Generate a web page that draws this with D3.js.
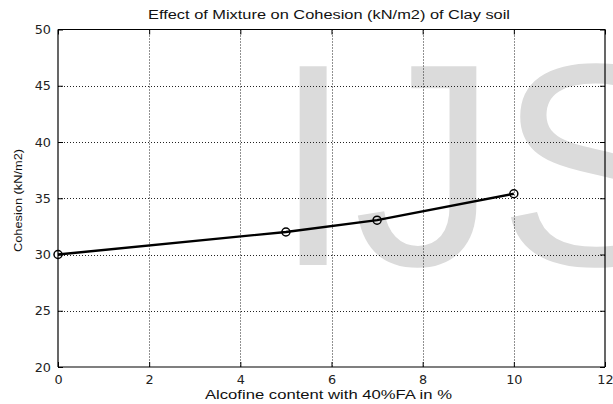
<!DOCTYPE html>
<html>
<head>
<meta charset="utf-8">
<script src="https://cdn.jsdelivr.net/npm/d3@7"></script>
<style>
  html, body { margin: 0; padding: 0; background: #fff; }
  svg { display: block; }
</style>
</head>
<body>
<svg id="chart" width="613" height="404"></svg>
<script>
// ---- data ----
const xValues = [0, 5, 7, 10];
const cohesion = [30, 32, 33.05, 35.4];
const xTicks = [0, 2, 4, 6, 8, 10, 12];
const yTicks = [20, 25, 30, 35, 40, 45, 50];
const titleText = "Effect of Mixture on Cohesion (kN/m2) of Clay soil";
const xLabelText = "Alcofine content with 40%FA in %";
const yLabelText = "Cohesion (kN/m2)";
const watermarkText = "IJS";

// ---- layout ----
const W = 613, H = 404;
const plot = { left: 58, right: 605, top: 29.5, bottom: 367 };
const svg = d3.select("#chart");

const x = d3.scaleLinear().domain([0, 12]).range([plot.left, plot.right]);
const y = d3.scaleLinear().domain([20, 50]).range([plot.bottom, plot.top]);

// watermark (behind everything)
svg.append("text")
  .attr("x", 273).attr("y", 265)
  .attr("font-family", "'Liberation Sans', Arial, sans-serif")
  .attr("font-size", 289)
  .attr("fill", "#dbdbdb")
  .text(watermarkText);

// grid
const grid = svg.append("g").attr("stroke", "#222").attr("stroke-width", 1)
  .attr("stroke-dasharray", "1,2");
grid.selectAll("line.gx").data(xTicks.filter(d => d > 0 && d < 12)).join("line")
  .attr("class", "gx")
  .attr("x1", d => Math.round(x(d)) + 0.5).attr("x2", d => Math.round(x(d)) + 0.5)
  .attr("y1", plot.top).attr("y2", plot.bottom);
grid.selectAll("line.gy").data(yTicks.filter(d => d > 20 && d < 50)).join("line")
  .attr("class", "gy")
  .attr("y1", d => Math.round(y(d)) + 0.5).attr("y2", d => Math.round(y(d)) + 0.5)
  .attr("x1", plot.left).attr("x2", plot.right);

// axes (MATLAB style: inward ticks, box)
const tickFont = "'DejaVu Sans', sans-serif";
const xAxisB = d3.axisBottom(x).tickValues(xTicks).tickSize(-5).tickPadding(8).tickFormat(d3.format("d"));
const xAxisT = d3.axisTop(x).tickValues(xTicks).tickSize(-5).tickFormat("");
const yAxisL = d3.axisLeft(y).tickValues(yTicks).tickSize(-5).tickPadding(7).tickFormat(d3.format("d"));
const yAxisR = d3.axisRight(y).tickValues(yTicks).tickSize(-5).tickFormat("");

function styleAxis(g) {
  g.select(".domain").attr("stroke", "#000").attr("stroke-width", 1.2);
  g.selectAll(".tick line").attr("stroke", "#000");
  g.selectAll("text").attr("font-family", tickFont).attr("font-size", 12.8).attr("fill", "#222");
}
svg.append("g").attr("transform", `translate(0,${plot.bottom})`).call(xAxisB).call(styleAxis)
  .call(g => g.select(".domain").attr("d", `M${plot.left},0H${plot.right}`));
svg.append("g").attr("transform", `translate(0,${plot.top})`).call(xAxisT).call(styleAxis)
  .call(g => g.select(".domain").attr("d", `M${plot.left},0H${plot.right}`));
svg.append("g").attr("transform", `translate(${plot.left},0)`).call(yAxisL).call(styleAxis)
  .call(g => g.select(".domain").attr("d", `M0,${plot.bottom}V${plot.top}`));
svg.append("g").attr("transform", `translate(${plot.right},0)`).call(yAxisR).call(styleAxis)
  .call(g => g.select(".domain").attr("d", `M0,${plot.bottom}V${plot.top}`));

// data line
const pts = xValues.map((v, i) => [v, cohesion[i]]);
svg.append("path").datum(pts)
  .attr("fill", "none").attr("stroke", "#000").attr("stroke-width", 2.3)
  .attr("d", d3.line().x(d => x(d[0])).y(d => y(d[1])));
svg.selectAll("circle.pt").data(pts).join("circle")
  .attr("class", "pt")
  .attr("cx", d => x(d[0])).attr("cy", d => y(d[1])).attr("r", 4)
  .attr("fill", "none").attr("stroke", "#000").attr("stroke-width", 1.5);

// title & labels
const labelFont = "'Liberation Sans', Arial, sans-serif";
svg.append("text").attr("x", 329).attr("y", 19).attr("text-anchor", "middle")
  .attr("font-family", labelFont).attr("font-size", 12.5).attr("fill", "#111")
  .attr("textLength", 362).attr("lengthAdjust", "spacingAndGlyphs")
  .text(titleText);
svg.append("text").attr("x", 328.5).attr("y", 399).attr("text-anchor", "middle")
  .attr("font-family", labelFont).attr("font-size", 12).attr("fill", "#111")
  .attr("textLength", 247).attr("lengthAdjust", "spacingAndGlyphs")
  .text(xLabelText);
svg.append("text").attr("transform", "translate(22,200.5) rotate(-90)").attr("text-anchor", "middle")
  .attr("font-family", labelFont).attr("font-size", 11.5).attr("fill", "#111")
  .attr("textLength", 103).attr("lengthAdjust", "spacingAndGlyphs")
  .text(yLabelText);
</script>
</body>
</html>
